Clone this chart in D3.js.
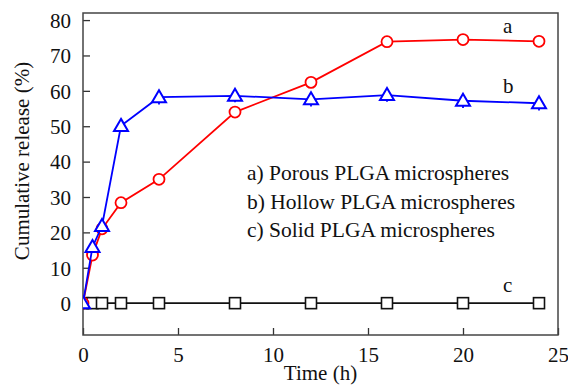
<!DOCTYPE html>
<html><head><meta charset="utf-8">
<script src="https://cdn.jsdelivr.net/npm/d3@7"></script>
<style>body{margin:0;background:#fff}svg{display:block}</style>
</head><body><svg id="c" width="568" height="385"></svg>
<script>
const times = [0, 0.5, 1, 2, 4, 8, 12, 16, 20, 24];
const porous = [0, 13.6, 21, 28.4, 35, 54, 62.4, 73.9, 74.5, 74];
const porousErr = [0, 0.8, 0.8, 0.8, 0.8, 0.8, 1, 1.3, 1.6, 1.6];
const hollow = [0, 15.9, 21.8, 50.1, 58.2, 58.6, 57.6, 58.8, 57.2, 56.5];
const hollowErr = [0, 0.8, 0.8, 0.8, 1.2, 1, 1.2, 1, 1.2, 1.2];
const solid = [0, 0, 0, 0, 0, 0, 0, 0, 0, 0];
const xTicks = [0, 5, 10, 15, 20, 25];
const yTicks = [0, 10, 20, 30, 40, 50, 60, 70, 80];
const legendLabels = ["a) Porous PLGA microspheres", "b) Hollow PLGA microspheres", "c) Solid PLGA microspheres"];
const curveLabels = ["a", "b", "c"];

const FONT = "'Liberation Serif', 'DejaVu Serif', serif";
const svg = d3.select("#c");
const L = 83, R = 558, T = 13, B = 335;
const x = d3.scaleLinear().domain([0, 25]).range([L, R]);
const y = d3.scaleLinear().domain([-9, 82]).range([B, T]);

svg.append("defs").append("clipPath").attr("id","clip")
  .append("rect").attr("x",L).attr("y",T).attr("width",R-L).attr("height",B-T);

const xAxis = d3.axisBottom(x).tickValues(xTicks).tickSizeInner(-7).tickSizeOuter(0).tickPadding(12);
const yAxis = d3.axisLeft(y).tickValues(yTicks).tickSizeInner(-7).tickSizeOuter(0).tickPadding(12);
const gx = svg.append("g").attr("transform",`translate(0,${B})`).call(xAxis);
const gy = svg.append("g").attr("transform",`translate(${L},0)`).call(yAxis);
[gx, gy].forEach(g => {
  g.attr("font-family", FONT).attr("font-size", 21);
  g.select(".domain").remove();
  g.selectAll("line").attr("stroke","#333").attr("stroke-width",1.3);
  g.selectAll("text").attr("fill","#111");
});
gy.selectAll("text").attr("dy","0.35em");

svg.append("rect").attr("x",L).attr("y",T).attr("width",R-L).attr("height",B-T)
  .attr("fill","none").attr("stroke","#444").attr("stroke-width",1.5);

const plot = svg.append("g").attr("clip-path","url(#clip)");
const line = d3.line().x(d => x(d[0])).y(d => y(d[1]));

function series(vals, errs, color, shape) {
  const pts = times.map((t,i) => [t, vals[i], errs ? errs[i] : 0]);
  plot.append("path").datum(pts).attr("d", line).attr("fill","none")
    .attr("stroke", color).attr("stroke-width", 1.8);
  if (errs) {
    plot.selectAll(null).data(pts.filter(p => p[2] > 0)).enter().append("line")
      .attr("x1", d => x(d[0])).attr("x2", d => x(d[0]))
      .attr("y1", d => y(d[1] - d[2]) + (shape === "tri" ? 3 : 0))
      .attr("y2", d => y(d[1] + d[2]) + (shape === "tri" ? 3 : 0))
      .attr("stroke", color).attr("stroke-width", 1.8);
  }
  const g = plot.selectAll(null).data(pts).enter().append("g")
    .attr("transform", d => `translate(${x(d[0])},${y(d[1])})`);
  if (shape === "circle") {
    g.append("circle").attr("r", 5.5).attr("fill","#fff").attr("stroke", color).attr("stroke-width", 1.8);
  } else if (shape === "tri") {
    g.append("path").attr("d", "M0,-7 L7,5 L-7,5 Z").attr("fill","#fff").attr("stroke", color).attr("stroke-width", 2);
  } else {
    g.append("rect").attr("x",-5.5).attr("y",-5.5).attr("width",11).attr("height",11)
      .attr("fill","#fff").attr("stroke", color).attr("stroke-width", 1.6);
  }
}
series(solid, null, "#111", "square");
series(porous, porousErr, "#ff0000", "circle");
series(hollow, hollowErr, "#0000ff", "tri");

const txt = sel => sel.attr("font-family", FONT).attr("fill", "#111");

const labPos = [[22.1, 78.5], [22.1, 61.6], [22.1, 5.3]];
svg.selectAll(null).data(curveLabels).enter().append("text").call(txt)
  .attr("x", (d,i) => x(labPos[i][0])).attr("y", (d,i) => y(labPos[i][1]))
  .attr("dy","0.35em").attr("font-size", 21).text(d => d);

svg.selectAll(null).data(legendLabels).enter().append("text").call(txt)
  .attr("x", 247).attr("y", (d,i) => 180 + i*28.5)
  .attr("font-size", 21.5).text(d => d);

svg.append("text").call(txt).attr("x", x(12.5)).attr("y", 380).attr("text-anchor","middle")
  .attr("font-size", 21).text("Time (h)");
svg.append("text").call(txt).attr("transform", `translate(29,161) rotate(-90)`)
  .attr("text-anchor","middle").attr("font-size", 21).text("Cumulative release (%)");
</script></body></html>
